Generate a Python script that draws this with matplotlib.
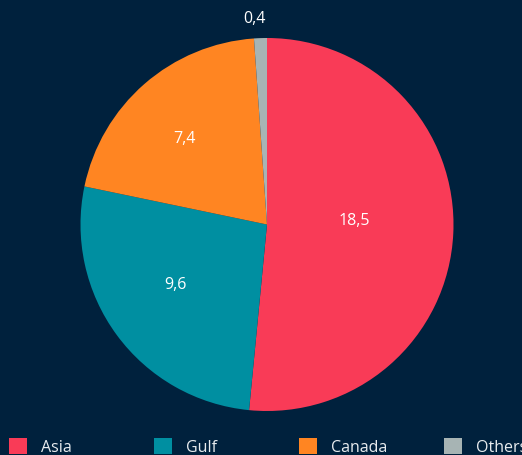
import matplotlib
matplotlib.use("Agg")
import matplotlib.pyplot as plt
import matplotlib.patches as mpatches
import numpy as np

categories = ["Asia", "Gulf", "Canada", "Others"]
values = [18.5, 9.6, 7.4, 0.4]
labels = ["18,5", "9,6", "7,4", "0,4"]
colors = ["#F93B57", "#008FA1", "#FF8522", "#A7B4B4"]
label_radius = [0.466, 0.587, 0.643, 1.109]
label_angle_shift = [5.4, -3.3, 2.5, 1.6]

bg = "#00213D"
plt.rcParams['font.family'] = ['Open Sans', 'DejaVu Sans']

W, H = 522, 456
fig = plt.figure(figsize=(W / 100, H / 100), dpi=100, facecolor=bg)
cx, cy, r = 267, 225.5, 186.5
ax = fig.add_axes([(cx - r) / W, (H - cy - r) / H, 2 * r / W, 2 * r / H])
ax.set_facecolor(bg)
wedges, _ = ax.pie(values, colors=colors, startangle=90, counterclock=False,
                   radius=1.0, wedgeprops=dict(linewidth=0))
ax.set_xlim(-1, 1)
ax.set_ylim(-1, 1)
ax.set_aspect('equal')
ax.axis('off')

for w, lab, rr, da in zip(wedges, labels, label_radius, label_angle_shift):
    ang = np.deg2rad((w.theta1 + w.theta2) / 2 + da)
    ax.text(rr * np.cos(ang), rr * np.sin(ang), lab, color="white",
            fontsize=11.5, ha="center", va="center", clip_on=False)

xs = [9, 154, 299, 444]
for x, cat, col in zip(xs, categories, colors):
    h = mpatches.Patch(facecolor=col, edgecolor='none')
    fig.legend([h], [cat], loc="center left",
               bbox_to_anchor=(x / W, 1 - 447.5 / H),
               frameon=False, borderpad=0, borderaxespad=0,
               handlelength=1.15, handleheight=1.15, handletextpad=0.85,
               fontsize=11.5, labelcolor="#E8ECEF")

fig.savefig("out.png", dpi=100, facecolor=bg)
